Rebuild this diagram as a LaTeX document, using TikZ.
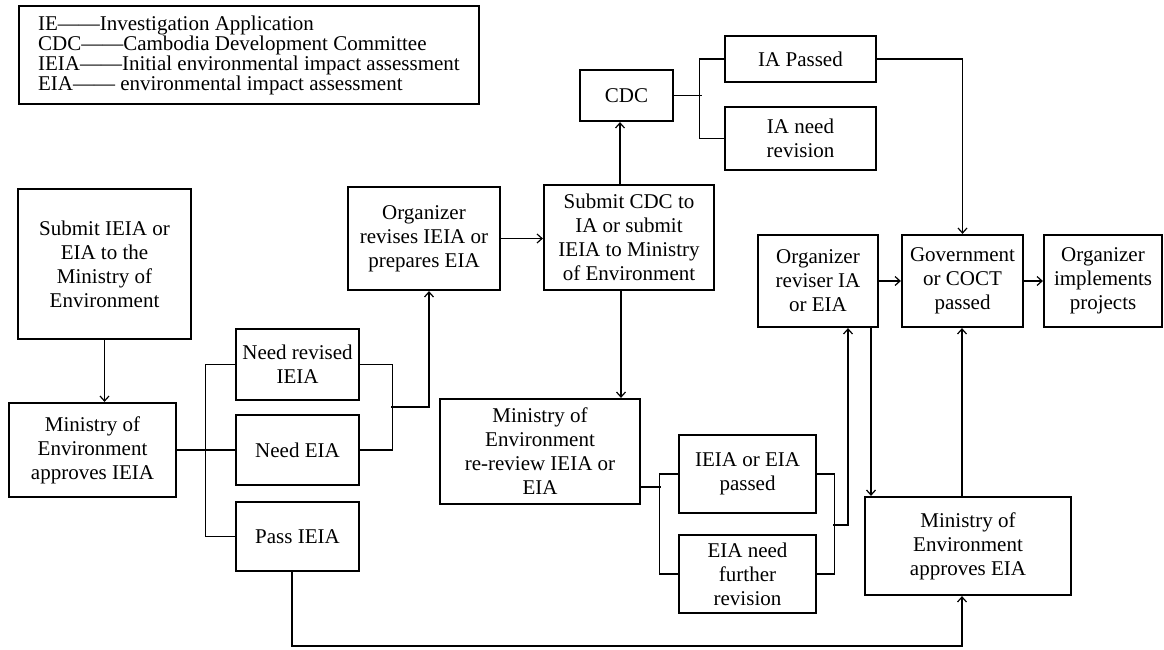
\documentclass[tikz,border=0pt]{standalone}
\usepackage{fontspec}
\setmainfont{Liberation Serif}
\usetikzlibrary{arrows.meta}
\begin{document}
\begin{tikzpicture}[x=1pt,y=-1pt,
  box/.style={draw, line width=2.2pt, align=center, inner sep=1pt,
    font=\fontsize{21}{24}\selectfont},
  legendbox/.style={draw, line width=2.2pt, align=left, inner xsep=19pt, inner ysep=0pt,
    anchor=north west, minimum width=458pt, minimum height=98pt,
    font={\fontsize{21}{20}\selectfont\lineskiplimit=-20pt}},
  conn/.style={line width=1.1pt},
  arr/.style={conn, -{Straight Barb[length=5pt,width=9pt,line width=1.2pt]}}]
\useasboundingbox (0,0) rectangle (1164,650);

\node[legendbox] (leg) at (18,5) {IE——Investigation Application\\CDC——Cambodia Development Committee\\IEIA——Initial environmental impact assessment\\EIA—— environmental impact assessment};

\node[box, minimum width=173pt, minimum height=150pt] (b1) at (104.5,264) {Submit IEIA or\\EIA to the\\Ministry of\\Environment};
\node[box, minimum width=167pt, minimum height=94pt] (b2) at (92.5,450) {Ministry of\\Environment\\approves IEIA};
\node[box, minimum width=123pt, minimum height=71pt] (b3) at (297.5,364.5) {Need revised\\IEIA};
\node[box, minimum width=123pt, minimum height=70pt] (b4) at (297.5,450) {Need EIA};
\node[box, minimum width=123pt, minimum height=69pt] (b5) at (297.5,536.5) {Pass IEIA};
\node[box, minimum width=152pt, minimum height=103pt] (b6) at (424,238.5) {Organizer\\revises IEIA or\\prepares EIA};
\node[box, minimum width=170pt, minimum height=105pt] (b7) at (629,237.5) {Submit CDC to\\IA or submit\\IEIA to Ministry\\of Environment};
\node[box, minimum width=93pt, minimum height=51pt] (b8) at (626.5,95.5) {CDC};
\node[box, minimum width=151pt, minimum height=46pt] (b9) at (800.5,59) {IA Passed};
\node[box, minimum width=151pt, minimum height=63pt] (b10) at (800.5,138.5) {IA need\\revision};
\node[box, minimum width=121pt, minimum height=92pt] (b11) at (962.5,281) {Government\\or COCT\\passed};
\node[box, minimum width=118pt, minimum height=92pt] (b12) at (1103,281) {Organizer\\implements\\projects};
\node[box, minimum width=120pt, minimum height=92pt] (b13) at (818,281) {Organizer\\reviser IA\\or EIA};
\node[box, minimum width=200pt, minimum height=105pt] (b14) at (540,451.5) {Ministry of\\Environment\\re-review IEIA or\\EIA};
\node[box, minimum width=137pt, minimum height=78pt] (b15) at (747.5,474) {IEIA or EIA\\passed};
\node[box, minimum width=137pt, minimum height=78pt] (b16) at (747.5,574) {EIA need\\further\\revision};
\node[box, minimum width=206pt, minimum height=98pt] (b17) at (968,546) {Ministry of\\Environment\\approves EIA};

% left part
\draw[arr] (b1.south) -- (b1.south |- b2.north);
\draw[conn] (b2.east) -- (b2.east -| b4.west);
\draw[conn] (b3.west) -- ++(-29,0) |- (b5.west);
\draw[conn] (b3.east) -- ++(32,0) |- (b4.east);
\coordinate (m1) at (391,407);
\coordinate (j1) at (429,407);
\draw[arr] (m1) -- (j1) -- (j1 |- b6.south);
\draw[arr] (b6.east) -- (b6.east -| b7.west);

% CDC
\coordinate (c1) at (620,0);
\draw[arr] (b7.north -| c1) -- (b8.south -| c1);
\draw[conn] (b9.west) -- ++(-24,0) |- (b10.west);
\draw[conn] (b8.east) -- ++(28,0);
\draw[arr] (b9.east) -| (b11.north);

% re-review
\coordinate (c2) at (621,0);
\draw[arr] (b7.south -| c2) -- (b14.north -| c2);
\coordinate (k1) at (661,487);
\draw[conn] (b14.east |- k1) -- (k1);
\draw[conn] (b15.west) -- ++(-18,0) |- (b16.west);
\draw[conn] (b15.east) -- ++(17,0) |- (b16.east);
\coordinate (m2) at (833,525);
\coordinate (j2) at (848,525);
\draw[arr] (m2) -- (j2) -- (j2 |- b13.south);
\coordinate (c3) at (871,0);
\draw[arr] (b13.south -| c3) -- (b17.north -| c3);

% right part
\draw[arr] (b13.east) -- (b11.west);
\draw[arr] (b11.east) -- (b12.west);
\coordinate (c4) at (962,0);
\draw[arr] (b17.north -| c4) -- (b11.south -| c4);
\coordinate (c5) at (0,646);
\coordinate (c6) at (292,0);
\draw[arr] (b5.south -| c6) -- (c6 |- c5) -| (b17.south -| c4);
\end{tikzpicture}
\end{document}
